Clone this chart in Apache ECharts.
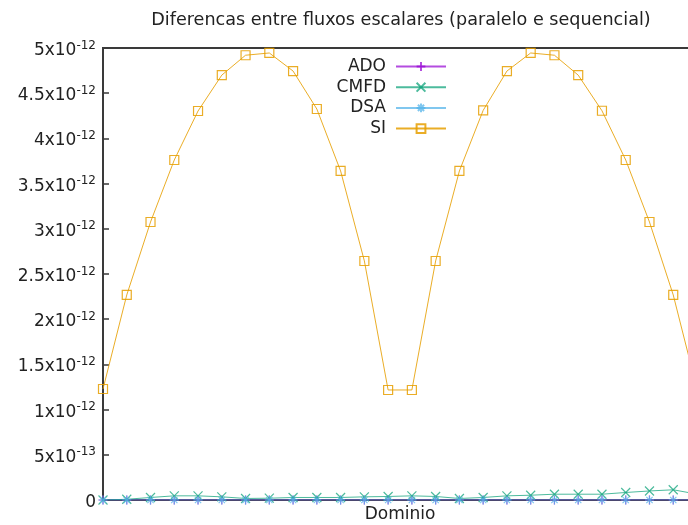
<!DOCTYPE html>
<html>
<head>
<meta charset="utf-8">
<script src="https://cdn.jsdelivr.net/npm/echarts@6/dist/echarts.min.js"></script>
<style>html,body{margin:0;padding:0;background:#fff}#c{width:688px;height:525px}</style>
</head>
<body>
<div id="c"></div>
<script>
// Domain point indices (x)
const domainIndex = [0,1,2,3,4,5,6,7,8,9,10,11,12,13,14,15,16,17,18,19,20,21,22,23,24,25];
// Values in units of 1e-12
const adoValues  = [0,0,0,0,0,0,0,0,0,0,0,0,0,0,0,0,0,0,0,0,0,0,0,0,0,0];
const cmfdValues = [0,0.008,0.028,0.046,0.046,0.035,0.017,0.02,0.028,0.028,0.028,0.035,0.039,0.046,0.039,0.017,0.028,0.046,0.053,0.064,0.064,0.064,0.083,0.10,0.113,0.065];
const dsaValues  = [0,0,0,0,0,0,0,0,0,0,0,0,0,0,0,0,0,0,0,0,0,0,0,0,0,0];
const siValues   = [1.228,2.268,3.075,3.761,4.303,4.70,4.92,4.945,4.745,4.325,3.64,2.644,1.217,1.217,2.644,3.64,4.31,4.745,4.945,4.92,4.70,4.306,3.761,3.075,2.268,1.228];
// y tick labels: mantissa and exponent
const tickMantissa = ['0','5','1','1.5','2','2.5','3','3.5','4','4.5','5'];
const tickExponent = ['','-13','-12','-12','-12','-12','-12','-12','-12','-12','-12'];
const seriesNames = ['ADO','CMFD','DSA','SI'];
const titleText = 'Diferencas entre fluxos escalares (paralelo e sequencial)';
const xName = 'Dominio';

const FONT = 'DejaVu Sans';
const pairs = vals => domainIndex.map((x, i) => [x, vals[i]]);

const plusPath = 'path://M0,5L10,5M5,0L5,10';
const crossPath = 'path://M0,0L10,10M10,0L0,10';
const starPath = 'path://M0,5L10,5M5,0L5,10M1.5,1.5L8.5,8.5M8.5,1.5L1.5,8.5';
const squarePath = 'path://M0,0L10,0L10,10L0,10Z';

function mk(name, vals, color, symbol, size, z) {
  return {
    name, type: 'line', data: pairs(vals), symbol, symbolSize: size, z,
    lineStyle: { color, width: 1 },
    itemStyle: { color: 'rgba(0,0,0,0)', borderColor: color, borderWidth: 1.2 },
    emphasis: { disabled: true }, animation: false
  };
}

const chart = echarts.init(document.getElementById('c'), null, { renderer: 'canvas' });
chart.setOption({
  animation: false,
  title: {
    text: titleText, left: 396, top: 6, textAlign: 'center',
    textStyle: { fontFamily: FONT, fontSize: 17.6, fontWeight: 'normal', color: '#222' }
  },
  legend: {
    orient: 'vertical', align: 'right', right: 241, top: 58, padding: 0,
    itemWidth: 50, itemHeight: 11, itemGap: 3.7,
    data: seriesNames,
    textStyle: { fontFamily: FONT, fontSize: 17, color: '#222', lineHeight: 14, padding: [0, 5, 0, 0] }
  },
  grid: { left: 103, top: 48, right: -9, bottom: 25, show: true, borderColor: '#3a3a3a', borderWidth: 2, containLabel: false, outerBoundsMode: 'none' },
  xAxis: {
    type: 'value', min: 0, max: 25,
    name: xName, nameLocation: 'middle', nameGap: 6,
    nameTextStyle: { fontFamily: FONT, fontSize: 17, color: '#222', verticalAlign: 'top' },
    axisLine: { show: true, onZero: false, lineStyle: { color: '#3a3a3a', width: 2 } },
    axisTick: { show: false }, axisLabel: { show: false }, splitLine: { show: false }
  },
  yAxis: {
    type: 'value', min: 0, max: 5, interval: 0.5,
    axisLine: { show: true, lineStyle: { color: '#3a3a3a', width: 2 } },
    axisTick: { show: true, inside: true, length: 6, lineStyle: { color: '#3a3a3a', width: 1.5 } },
    splitLine: { show: false },
    axisLabel: {
      margin: 7,
      padding: [5, 0, 0, 0],
      formatter: (v, idx) => {
        const i = Math.round(v / 0.5);
        const m = tickMantissa[i], e = tickExponent[i];
        return e ? '{b|' + m + 'x10}{s|' + e + '}' : '{b|' + m + '}';
      },
      rich: {
        b: { fontFamily: FONT, fontSize: 17, color: '#222' },
        s: { fontFamily: FONT, fontSize: 12, color: '#222', padding: [0, 0, 10, 0] }
      }
    }
  },
  series: [
    mk(seriesNames[0], adoValues, 'rgba(148,0,211,0.7)', plusPath, 9, 2),
    mk(seriesNames[1], cmfdValues, 'rgba(0,158,115,0.7)', crossPath, 9, 3),
    mk(seriesNames[2], dsaValues, 'rgba(86,180,233,0.75)', starPath, 9, 4),
    mk(seriesNames[3], siValues, 'rgba(230,159,0,0.85)', squarePath, 9, 5)
  ]
});
</script>
</body>
</html>
